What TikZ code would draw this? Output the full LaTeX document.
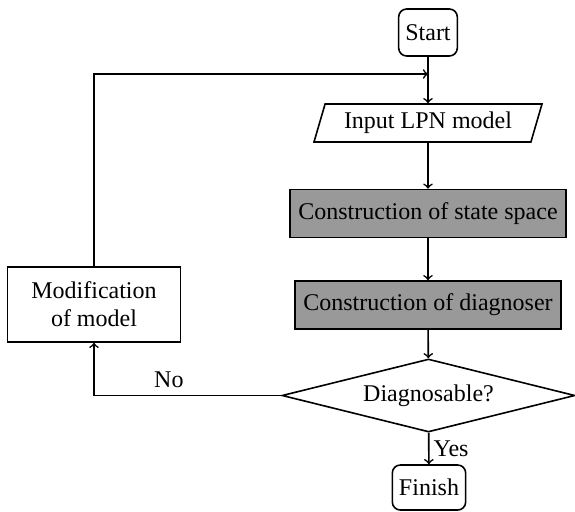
\documentclass[tikz,border=0pt]{standalone}
\usepackage{fontspec}
\setmainfont{Liberation Serif}
\usetikzlibrary{shapes.geometric}

\begin{document}
\begin{tikzpicture}[x=0.5pt, y=-0.5pt,
    every node/.style={font=\fontsize{12}{14}\selectfont},
    terminal/.style={draw, thick, rounded corners=4pt, minimum height=23.5pt},
    iobox/.style={draw, thick, trapezium, trapezium left angle=63,
        trapezium right angle=117, trapezium stretches body,
        minimum width=114pt, minimum height=19pt, inner sep=0pt},
    process/.style={draw, thick, fill=black!40, minimum height=24pt},
    decision/.style={draw, thick, diamond, aspect=4, inner sep=0pt,
        minimum width=146.5pt, minimum height=36.5pt},
    plainbox/.style={draw, thick, align=center, minimum width=86.5pt,
        minimum height=37.5pt},
    flow/.style={->, thick}]

    % --- Fix the Frame ---
    \useasboundingbox (0,0) rectangle (575,511);

    % --- Place Nodes ---

    % Start at the top
    \node[terminal] (start) at (428,32.5) {Start};

    % Input of the model
    \node[iobox] (input) at (428,123) {Input LPN model};

    % First construction step
    \node[process, minimum width=138pt] (statespace) at (428,213.5)
        {Construction of state space};

    % Second construction step
    \node[process, minimum width=133pt] (diagnoser) at (428,305)
        {Construction of diagnoser};

    % Decision
    \node[decision] (check) at (428.5,395.5) {Diagnosable?};

    % Finish at the bottom
    \node[terminal, minimum height=22.5pt] (finish) at (429,487.5) {Finish};

    % Modification on the left
    \node[plainbox] (modify) at (94,304.5) {Modification\\of model};

    % Point where the loop meets the main line
    \coordinate (join) at (428,74);

    % --- Draw Connectors ---
    \draw[flow] (start) -- (input);
    \draw[flow] (input) -- (statespace);
    \draw[flow] (statespace) -- (diagnoser);
    \draw[flow] (diagnoser) -- (check);
    \draw[flow] (check) -- node[right, inner sep=2pt] {Yes} (finish);
    \draw[flow] (check.west) -| node[above, pos=0.3] {No} (modify.south);
    \draw[flow] (modify.north) |- (join);

\end{tikzpicture}
\end{document}
